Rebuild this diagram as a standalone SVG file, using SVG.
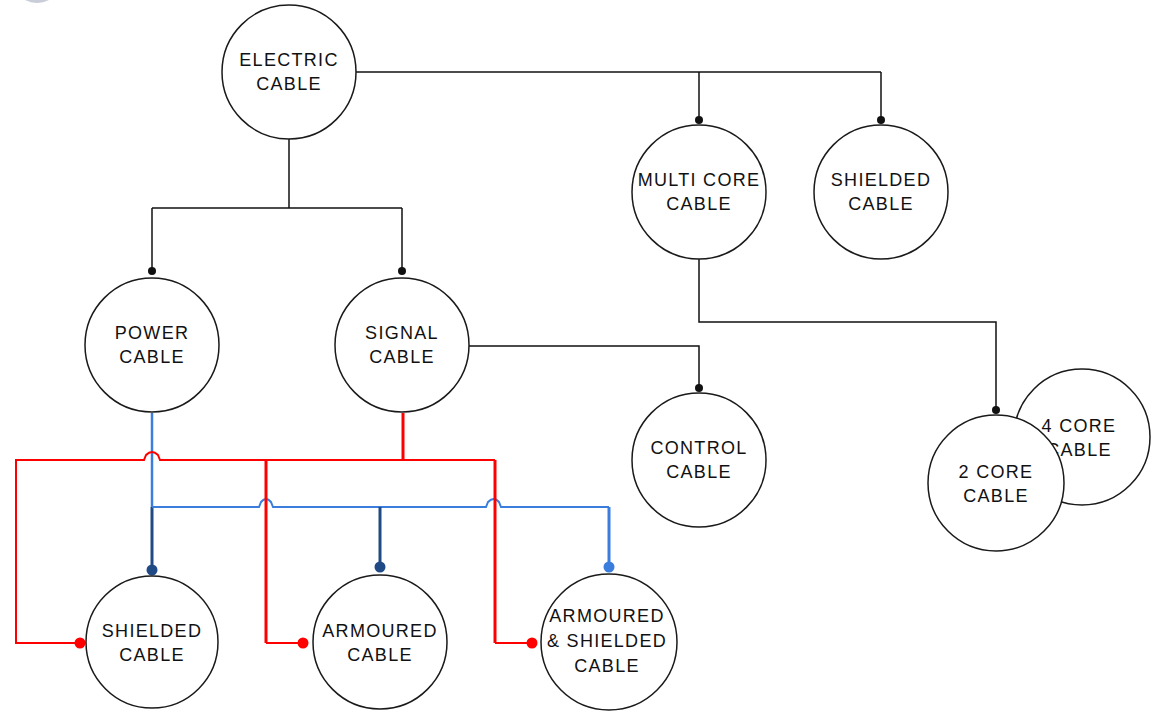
<svg xmlns="http://www.w3.org/2000/svg" width="1151" height="711" viewBox="0 0 1151 711">
<style>
.node circle{fill:#fff;stroke:#1a1a1a;stroke-width:1.5}
.node text{font-family:"Liberation Sans",Arial,sans-serif;font-size:18px;letter-spacing:1.3px;fill:#111;text-anchor:middle}
.k{fill:none;stroke:#111;stroke-width:1.5}
.r{fill:none;stroke:#ff0000;stroke-width:2}
.rt{fill:none;stroke:#ff0000;stroke-width:3}
.lb{fill:none;stroke:#3b7ddd;stroke-width:2}
.lbt{fill:none;stroke:#3b7ddd;stroke-width:3}
.db{fill:none;stroke:#1f4a85;stroke-width:3}
</style>
<defs>
<marker id="mk" markerUnits="userSpaceOnUse" markerWidth="10" markerHeight="10" refX="5" refY="5" orient="auto"><circle cx="5" cy="5" r="4" fill="#111"/></marker>
<marker id="mr" markerUnits="userSpaceOnUse" markerWidth="12" markerHeight="12" refX="6" refY="6" orient="auto"><circle cx="6" cy="6" r="5.5" fill="#ff0000"/></marker>
<marker id="mdb" markerUnits="userSpaceOnUse" markerWidth="12" markerHeight="12" refX="6" refY="6" orient="auto"><circle cx="6" cy="6" r="5.5" fill="#1f4a85"/></marker>
<marker id="mlb" markerUnits="userSpaceOnUse" markerWidth="12" markerHeight="12" refX="6" refY="6" orient="auto"><circle cx="6" cy="6" r="5.5" fill="#3b7ddd"/></marker>
</defs>
<rect width="1151" height="711" fill="#fff"/>
<ellipse cx="37" cy="-6" rx="16" ry="9" fill="#c9cdd8"/>
<ellipse cx="37" cy="-8" rx="11" ry="8" fill="#4b5a95"/>

<g id="connectors">
<path class="k" d="M289,139 V208"/>
<path class="k" d="M152,208 H402"/>
<path class="k" d="M152,208 V271" marker-end="url(#mk)"/>
<path class="k" d="M402,208 V271" marker-end="url(#mk)"/>
<path class="k" d="M356,72 H881"/>
<path class="k" d="M699,72 V120" marker-end="url(#mk)"/>
<path class="k" d="M881,72 V120" marker-end="url(#mk)"/>
<path class="k" d="M699,259 V322 H996 V410" marker-end="url(#mk)"/>
<path class="k" d="M469,346 H699 V388" marker-end="url(#mk)"/>

<path class="lb" d="M152,413 V507" style="stroke-width:2.5"/>
<path class="db" d="M152,507 V570" marker-end="url(#mdb)"/>
<path class="lb" d="M152,507 H259 L261,502 Q266,496 271,502 L273,507 H486 L488,502 Q494,496 499,502 L501,507 H609"/>
<path class="db" d="M380,507 V567" marker-end="url(#mdb)"/>
<path class="lbt" d="M609,507 V567" marker-end="url(#mlb)"/>

<path class="rt" d="M403,413 V460"/>
<path class="r" d="M495,460 H160 L158,455 Q152,449 146,455 L144,460 H16 V643 H80" marker-end="url(#mr)"/>
<path class="rt" d="M266,460 V643"/>
<path class="r" d="M266,643 H303" marker-end="url(#mr)"/>
<path class="rt" d="M495,460 V643"/>
<path class="r" d="M495,643 H532" marker-end="url(#mr)"/>
</g>

<g id="electric-cable" class="node"><circle cx="289" cy="72" r="67"/><text x="289" y="66">ELECTRIC</text><text x="289" y="90">CABLE</text></g>
<g id="power-cable" class="node"><circle cx="152" cy="345" r="67"/><text x="152" y="339">POWER</text><text x="152" y="363">CABLE</text></g>
<g id="signal-cable" class="node"><circle cx="402" cy="345" r="67"/><text x="402" y="339">SIGNAL</text><text x="402" y="363">CABLE</text></g>
<g id="multi-core-cable" class="node"><circle cx="699" cy="192" r="67"/><text x="699" y="186">MULTI CORE</text><text x="699" y="210">CABLE</text></g>
<g id="shielded-cable-top" class="node"><circle cx="881" cy="192" r="67"/><text x="881" y="186">SHIELDED</text><text x="881" y="210">CABLE</text></g>
<g id="control-cable" class="node"><circle cx="699" cy="460" r="67"/><text x="699" y="454">CONTROL</text><text x="699" y="478">CABLE</text></g>
<g id="four-core-cable" class="node"><circle cx="1082" cy="437" r="68"/><text x="1079" y="432">4 CORE</text><text x="1079" y="456">CABLE</text></g>
<g id="two-core-cable" class="node"><circle cx="996" cy="483" r="68"/><text x="996" y="478">2 CORE</text><text x="996" y="502">CABLE</text></g>
<g id="shielded-cable" class="node"><circle cx="152" cy="642" r="66"/><text x="152" y="637">SHIELDED</text><text x="152" y="661">CABLE</text></g>
<g id="armoured-cable" class="node"><circle cx="380" cy="642" r="67"/><text x="380" y="637">ARMOURED</text><text x="380" y="661">CABLE</text></g>
<g id="armoured-shielded-cable" class="node"><circle cx="609" cy="642" r="68"/><text x="607" y="622">ARMOURED</text><text x="607" y="647">&amp; SHIELDED</text><text x="607" y="672">CABLE</text></g>
</svg>
